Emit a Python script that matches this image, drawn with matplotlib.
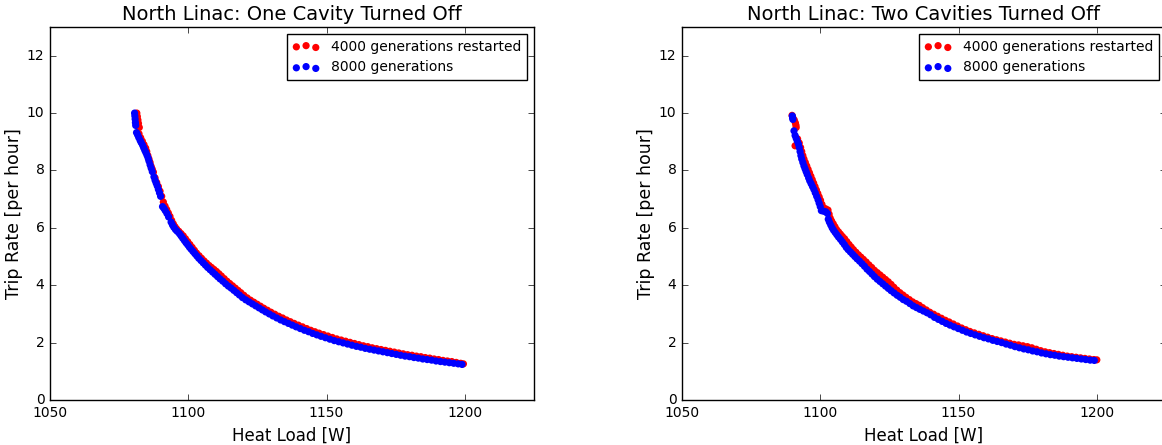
import matplotlib
matplotlib.use("Agg")
import matplotlib.pyplot as plt

# One cavity off - 4000 generations restarted (red)
one_red_x = [1081.4, 1081.6, 1081.8, 1082.0, 1082.3,
             1082.2, 1082.8, 1083.4, 1084.0, 1084.6, 1085.0, 1085.4, 1085.8, 1086.2, 1086.6, 1087.0, 1087.4,
             1088.0, 1088.6, 1089.2, 1089.8, 1090.4, 1091.0, 1091.6, 1092.2, 1092.8, 1093.4, 1094.0, 1094.6,
             1095.2, 1095.8, 1096.6, 1097.4, 1098.2, 1099.0, 1099.8, 1100.6, 1101.4, 1102.2, 1103.0, 1103.9,
             1104.8, 1105.7, 1106.6, 1107.5, 1108.4, 1109.3, 1110.2, 1111.1, 1112.0, 1113.0, 1114.0, 1115.0,
             1116.0, 1117.0, 1118.0, 1119.0, 1120.1, 1121.3, 1122.5, 1123.7, 1124.9, 1126.1, 1127.3, 1128.6,
             1129.9, 1131.3, 1132.7, 1134.1, 1135.5, 1136.9, 1138.3, 1139.8, 1141.3, 1142.8, 1144.3, 1145.8,
             1147.3, 1148.9, 1150.5, 1152.1, 1153.7, 1155.3, 1156.9, 1158.5, 1160.1, 1161.7, 1163.3, 1164.9,
             1166.5, 1168.1, 1169.7, 1171.3, 1172.9, 1174.5, 1176.1, 1177.7, 1179.3, 1180.9, 1182.5, 1184.1,
             1185.7, 1187.3, 1188.9, 1190.5, 1192.1, 1193.7, 1195.3, 1196.9, 1198.5, 1199.5]
one_red_y = [10.00, 9.88, 9.76, 9.64, 9.50,
             9.28, 9.14, 9.02, 8.90, 8.78, 8.66, 8.52, 8.40, 8.28, 8.14, 8.04, 7.94,
             7.74, 7.58, 7.44, 7.28, 7.10, 6.90, 6.76, 6.64, 6.52, 6.40, 6.26, 6.14,
             6.04, 5.96, 5.88, 5.80, 5.72, 5.62, 5.52, 5.42, 5.32, 5.22, 5.12, 5.03,
             4.94, 4.85, 4.77, 4.69, 4.62, 4.55, 4.48, 4.40, 4.32, 4.23, 4.14, 4.06,
             3.98, 3.90, 3.82, 3.74, 3.65, 3.56, 3.48, 3.41, 3.34, 3.27, 3.20, 3.13,
             3.06, 2.99, 2.92, 2.86, 2.79, 2.73, 2.67, 2.61, 2.55, 2.49, 2.43, 2.38,
             2.33, 2.28, 2.23, 2.18, 2.13, 2.09, 2.05, 2.01, 1.97, 1.93, 1.89, 1.86,
             1.82, 1.79, 1.76, 1.73, 1.70, 1.67, 1.64, 1.61, 1.58, 1.56, 1.53, 1.51,
             1.48, 1.46, 1.43, 1.41, 1.38, 1.36, 1.34, 1.31, 1.28, 1.26]

# One cavity off - 8000 generations (blue)
one_blue_x = [1080.6, 1080.7, 1080.8, 1080.9, 1081.0,
              1081.3, 1081.7, 1082.1, 1082.6, 1083.0, 1083.5, 1083.9, 1084.3, 1084.7, 1085.1, 1085.5, 1085.8,
              1086.2, 1086.6, 1087.0, 1087.6, 1088.0, 1088.4, 1088.8, 1089.2, 1089.6, 1090.0, 1090.7, 1091.2,
              1091.7, 1092.3, 1092.9, 1093.8, 1094.3, 1094.8, 1095.4, 1096.0, 1096.8, 1097.4, 1098.0, 1098.6,
              1099.2, 1099.8, 1100.4, 1101.0, 1101.7, 1102.4, 1103.1, 1103.8, 1104.6, 1105.4, 1106.2, 1107.0,
              1107.9, 1108.8, 1109.7, 1110.6, 1111.5, 1112.5, 1113.5, 1114.5, 1115.5, 1116.5, 1117.5, 1118.5,
              1119.6, 1120.8, 1122.0, 1123.2, 1124.4, 1125.6, 1126.8, 1128.0, 1129.3, 1130.6, 1132.0, 1133.4,
              1134.8, 1136.2, 1137.6, 1139.0, 1140.5, 1142.0, 1143.5, 1145.0, 1146.5, 1148.0, 1149.6, 1151.2,
              1152.8, 1154.4, 1156.0, 1157.6, 1159.2, 1160.8, 1162.4, 1164.0, 1165.6, 1167.2, 1168.8, 1170.4,
              1172.0, 1173.6, 1175.2, 1176.8, 1178.4, 1180.0, 1181.6, 1183.2, 1184.8, 1186.4, 1188.0, 1189.6,
              1191.2, 1192.8, 1194.4, 1196.0, 1197.6, 1199.0]
one_blue_y = [10.00, 9.90, 9.79, 9.67, 9.57,
              9.32, 9.24, 9.15, 9.05, 8.97, 8.88, 8.79, 8.70, 8.62, 8.53, 8.43, 8.33,
              8.20, 8.08, 7.96, 7.78, 7.66, 7.56, 7.46, 7.34, 7.22, 7.10, 6.74, 6.68,
              6.60, 6.50, 6.38, 6.20, 6.10, 6.02, 5.94, 5.88, 5.80, 5.72, 5.64, 5.56,
              5.48, 5.41, 5.33, 5.26, 5.18, 5.10, 5.02, 4.94, 4.86, 4.78, 4.70, 4.62,
              4.54, 4.46, 4.38, 4.30, 4.22, 4.14, 4.05, 3.97, 3.90, 3.82, 3.74, 3.66,
              3.57, 3.49, 3.42, 3.35, 3.28, 3.21, 3.14, 3.07, 3.00, 2.93, 2.86, 2.79,
              2.73, 2.67, 2.61, 2.55, 2.49, 2.43, 2.38, 2.32, 2.27, 2.22, 2.17, 2.12,
              2.07, 2.03, 1.99, 1.95, 1.91, 1.87, 1.84, 1.80, 1.77, 1.74, 1.71, 1.68,
              1.65, 1.62, 1.59, 1.56, 1.53, 1.51, 1.48, 1.46, 1.43, 1.41, 1.39, 1.36,
              1.34, 1.32, 1.30, 1.28, 1.26, 1.24]

# Two cavities off - 4000 generations restarted (red)
two_red_x = [1089.8, 1090.0, 1090.6, 1091.0, 1091.2, 1091.3, 1090.9,
             1091.8, 1092.4, 1092.9, 1093.3, 1093.7, 1094.1, 1094.6, 1095.1, 1095.6, 1096.1, 1096.6, 1097.1,
             1097.6, 1098.1, 1098.6, 1099.1, 1099.6, 1100.1, 1100.6, 1101.2, 1102.0, 1102.8, 1103.2, 1103.6,
             1104.1, 1104.7, 1105.3, 1105.9, 1106.6, 1107.3, 1108.0, 1108.8, 1109.6, 1110.4, 1111.2, 1112.0,
             1112.9, 1113.8, 1114.7, 1115.6, 1116.6, 1117.6, 1118.6, 1119.6, 1120.6, 1121.6, 1122.6, 1123.6,
             1124.6, 1125.6, 1126.6, 1127.7, 1128.8, 1129.9, 1131.0, 1132.2, 1133.4, 1134.6, 1135.8, 1137.0,
             1138.3, 1139.6, 1141.0, 1142.4, 1143.8, 1145.2, 1146.6, 1148.1, 1149.6, 1151.1, 1152.6, 1154.1,
             1155.7, 1157.3, 1158.9, 1160.5, 1162.1, 1163.7, 1165.3, 1166.9, 1168.5, 1170.1, 1171.7, 1173.3,
             1174.9, 1176.5, 1178.1, 1179.7, 1181.3, 1182.9, 1184.5, 1186.1, 1187.7, 1189.3, 1190.9, 1192.5,
             1194.1, 1195.7, 1197.3, 1198.9, 1200.0]
two_red_y = [9.92, 9.86, 9.76, 9.66, 9.58, 9.50, 8.86,
             9.10, 8.96, 8.80, 8.66, 8.52, 8.40, 8.28, 8.16, 8.04, 7.92, 7.80, 7.68,
             7.56, 7.44, 7.32, 7.20, 7.08, 6.96, 6.82, 6.70, 6.66, 6.62, 6.48, 6.34,
             6.24, 6.14, 6.04, 5.94, 5.86, 5.78, 5.70, 5.62, 5.52, 5.42, 5.33, 5.24,
             5.15, 5.06, 4.98, 4.90, 4.81, 4.71, 4.62, 4.52, 4.44, 4.36, 4.28, 4.20,
             4.12, 4.03, 3.93, 3.83, 3.74, 3.66, 3.58, 3.50, 3.42, 3.36, 3.30, 3.22,
             3.14, 3.06, 2.99, 2.92, 2.85, 2.78, 2.72, 2.65, 2.58, 2.51, 2.45, 2.39,
             2.34, 2.29, 2.24, 2.19, 2.14, 2.10, 2.06, 2.02, 1.98, 1.94, 1.92, 1.89,
             1.86, 1.82, 1.77, 1.72, 1.68, 1.65, 1.62, 1.59, 1.56, 1.53, 1.51, 1.49,
             1.47, 1.45, 1.43, 1.41, 1.40]

# Two cavities off - 8000 generations (blue)
two_blue_x = [1089.9, 1090.0, 1090.1,
              1090.5, 1090.9, 1091.3, 1091.7, 1092.1, 1092.4, 1092.7, 1093.0, 1093.3, 1093.7, 1094.1, 1094.5,
              1094.9, 1095.3, 1095.8, 1096.2, 1096.7, 1097.2, 1097.7, 1098.2, 1098.7, 1099.2, 1099.6, 1100.0,
              1100.4, 1101.2, 1102.0, 1102.6, 1102.9, 1103.3, 1103.8, 1104.3, 1104.8, 1105.4, 1106.0, 1106.6,
              1107.3, 1108.0, 1108.7, 1109.4, 1110.1, 1110.9, 1111.7, 1112.5, 1113.3, 1114.2, 1115.1, 1116.0,
              1116.9, 1117.8, 1118.7, 1119.6, 1120.6, 1121.6, 1122.6, 1123.6, 1124.6, 1125.6, 1126.7, 1127.8,
              1128.9, 1130.0, 1131.2, 1132.4, 1133.6, 1134.8, 1136.0, 1137.3, 1138.6, 1139.9, 1141.3, 1142.7,
              1144.1, 1145.5, 1146.9, 1148.4, 1149.9, 1151.4, 1152.9, 1154.4, 1156.0, 1157.6, 1159.2, 1160.8,
              1162.4, 1164.0, 1165.6, 1167.2, 1168.8, 1170.4, 1172.0, 1173.6, 1175.2, 1176.8, 1178.4, 1180.0,
              1181.6, 1183.2, 1184.8, 1186.4, 1188.0, 1189.6, 1191.2, 1192.8, 1194.4, 1196.0, 1197.6, 1199.1]
two_blue_y = [9.90, 9.84, 9.78,
              9.38, 9.22, 9.12, 9.02, 8.92, 8.80, 8.66, 8.52, 8.40, 8.28, 8.16, 8.06,
              7.96, 7.86, 7.74, 7.64, 7.54, 7.44, 7.34, 7.22, 7.10, 6.98, 6.86, 6.74,
              6.60, 6.58, 6.56, 6.50, 6.30, 6.20, 6.10, 6.00, 5.92, 5.84, 5.76, 5.68,
              5.60, 5.51, 5.42, 5.32, 5.24, 5.16, 5.08, 5.00, 4.92, 4.84, 4.75, 4.66,
              4.56, 4.48, 4.39, 4.30, 4.21, 4.13, 4.05, 3.97, 3.89, 3.81, 3.73, 3.65,
              3.58, 3.50, 3.44, 3.36, 3.28, 3.22, 3.16, 3.10, 3.04, 2.97, 2.88, 2.81,
              2.74, 2.67, 2.61, 2.55, 2.49, 2.43, 2.37, 2.32, 2.27, 2.22, 2.17, 2.13,
              2.08, 2.04, 2.00, 1.95, 1.91, 1.86, 1.82, 1.78, 1.75, 1.71, 1.68, 1.64,
              1.61, 1.58, 1.56, 1.53, 1.51, 1.49, 1.47, 1.45, 1.43, 1.41, 1.39, 1.38]

titles = ["North Linac: One Cavity Turned Off", "North Linac: Two Cavities Turned Off"]
labels = ["4000 generations restarted", "8000 generations"]
xticks = [1050, 1100, 1150, 1200]
yticks = [0, 2, 4, 6, 8, 10, 12]

plt.style.use("classic")
plt.rcParams["savefig.facecolor"] = "white"
plt.rcParams["figure.facecolor"] = "white"


def draw_panel(ax, red_x, red_y, blue_x, blue_y, title):
    ax.scatter(red_x, red_y, s=27, c="red", edgecolors="none", label=labels[0])
    ax.scatter(blue_x, blue_y, s=27, c="blue", edgecolors="none", label=labels[1])
    ax.set_xlim(1050, 1225)
    ax.set_ylim(0, 13)
    ax.set_xticks(xticks)
    ax.set_yticks(yticks)
    ax.tick_params(labelsize=10, direction="in")
    ax.set_title(title, fontsize=14)
    ax.set_xlabel("Heat Load [W]", fontsize=12)
    ax.set_ylabel("Trip Rate [per hour]", fontsize=12.5, labelpad=3)
    ax.legend(loc="upper right", scatterpoints=3, fontsize=10, fancybox=False)


fig = plt.figure(figsize=(11.62, 4.45), dpi=100)
ax1 = fig.add_axes([0.0430, 0.1011, 0.4165, 0.8382])
ax2 = fig.add_axes([0.5869, 0.1011, 0.4165, 0.8382])

draw_panel(ax1, one_red_x, one_red_y, one_blue_x, one_blue_y, titles[0])
draw_panel(ax2, two_red_x, two_red_y, two_blue_x, two_blue_y, titles[1])

fig.savefig("out.png", dpi=100)
